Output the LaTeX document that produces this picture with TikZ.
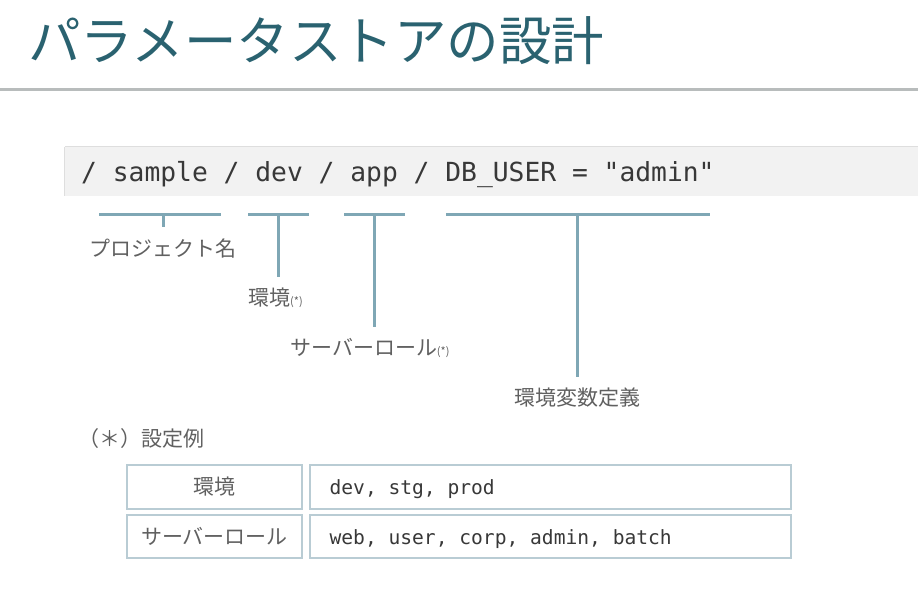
\documentclass[tikz,border=0pt]{standalone}
\usepackage{fontspec}
\setmainfont{Noto Sans CJK JP}
\newfontfamily\jp{Noto Sans CJK JP}
\newfontfamily\mono{DejaVu Sans Mono}
\definecolor{titlec}{HTML}{2A6270}
\definecolor{rulec}{HTML}{B8BCBC}
\definecolor{codebg}{HTML}{F2F2F2}
\definecolor{codeedge}{HTML}{DEDEDE}
\definecolor{codetx}{HTML}{383838}
\definecolor{brc}{HTML}{7FA7B5}
\definecolor{labc}{HTML}{606060}
\definecolor{cellc}{HTML}{B9CCD4}
\tikzset{
  lab/.style={inner sep=0pt, text=labc, font=\jp\fontsize{21}{25}\selectfont},
  brk/.style={draw=brc, line width=3pt},
  cell/.style={draw=cellc, line width=1.2pt, inner sep=0pt},
  celltx/.style={inner sep=0pt, text=codetx, font=\mono\fontsize{19.6}{23}\selectfont},
}
\begin{document}
\begin{tikzpicture}[x=1pt,y=-1pt]
\useasboundingbox (0,0) rectangle (918,594);
% title
\node[anchor=west, inner sep=0pt, text=titlec, font=\jp\fontsize{52.5}{60}\selectfont] (title) at (28,41) {パラメータストアの設計};
\draw[draw=rulec, line width=3pt] (0,89) -- (918,89);
% code box
\node[fill=codebg, inner sep=0pt, minimum width=853pt, minimum height=49pt] (code) at (491.5,171.5) {};
\draw[codeedge, line width=1pt] (code.north west) -- (code.north east);
\draw[codeedge, line width=1pt] (code.north west) -- (code.south west);
\node[anchor=west, inner sep=0pt, text=codetx, font=\mono\fontsize{26.3}{30}\selectfont] (path) at (81,174.5) {/ sample / dev / app / DB\_USER = "admin"};
% labels
\node[lab] (proj) at (163,249) {プロジェクト名};
\node[lab, anchor=west] (env) at (248,298) {環境{\fontsize{11}{12}\selectfont(*)}};
\node[lab, anchor=west] (role) at (290,348) {サーバーロール{\fontsize{11}{12}\selectfont(*)}};
\node[lab] (envdef) at (577,398) {環境変数定義};
% brackets
\coordinate (b1l) at (99,214); \coordinate (b1r) at (221,214); \coordinate (b1m) at (163,214);
\coordinate (b2l) at (248,214); \coordinate (b2r) at (309,214); \coordinate (b2m) at (278,214);
\coordinate (b3l) at (344,214); \coordinate (b3r) at (405,214); \coordinate (b3m) at (374,214);
\coordinate (b4l) at (446,214); \coordinate (b4r) at (710,214); \coordinate (b4m) at (577,214);
\draw[brk] (b1l) -- (b1r); \draw[brk] (b1m) -- (163,227);
\draw[brk] (b2l) -- (b2r); \draw[brk] (b2m) -- (278,277);
\draw[brk] (b3l) -- (b3r); \draw[brk] (b3m) -- (374,327);
\draw[brk] (b4l) -- (b4r); \draw[brk] (b4m) -- (577,377);
% note
\node[lab, anchor=west] (note) at (78,439) {（＊）設定例};
% table
\node[cell, minimum width=175pt, minimum height=44pt] (c11) at (214.5,487) {};
\node[cell, minimum width=481pt, minimum height=44pt] (c12) at (550.5,487) {};
\node[cell, minimum width=175pt, minimum height=43pt] (c21) at (214.5,536.5) {};
\node[cell, minimum width=481pt, minimum height=43pt] (c22) at (550.5,536.5) {};
\node[lab] (t11) at (c11.center) {環境};
\node[lab] (t21) at (c21.center) {サーバーロール};
\node[celltx, anchor=west] (t12) at ([xshift=20pt,yshift=-2.5pt]c12.west) {dev, stg, prod};
\node[celltx, anchor=west] (t22) at ([xshift=20pt,yshift=-2.5pt]c22.west) {web, user, corp, admin, batch};
\end{tikzpicture}
\end{document}
